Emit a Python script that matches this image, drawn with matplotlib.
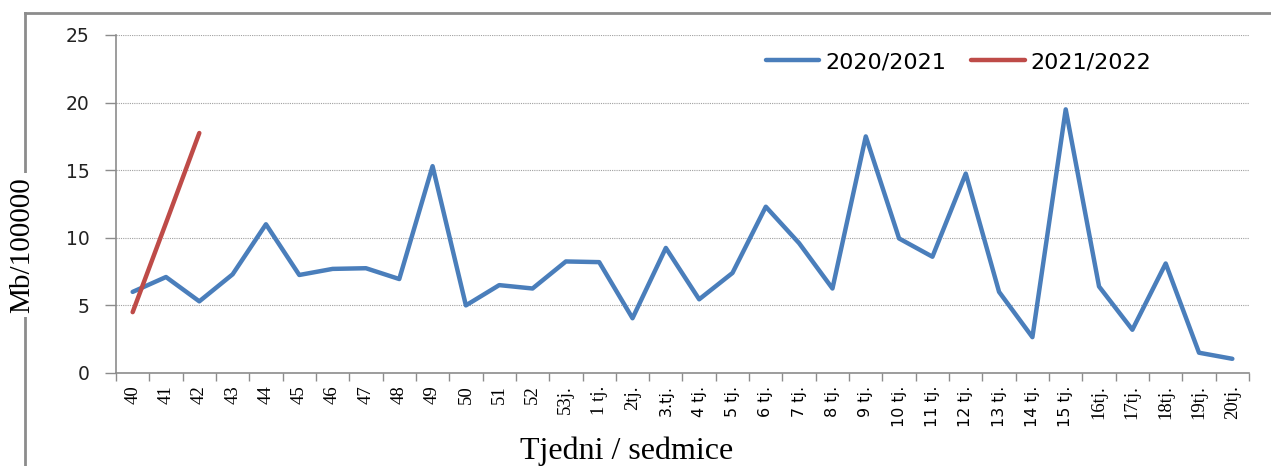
import matplotlib
matplotlib.use("Agg")
import matplotlib.pyplot as plt
from matplotlib.lines import Line2D

weeks = ["40", "41", "42", "43", "44", "45", "46", "47", "48", "49", "50", "51", "52",
         "53j.", "1 tj.", "2tj.", "3.tj.", "4 tj.", "5 tj.", "6 tj.", "7 tj.", "8 tj.",
         "9 tj.", "10 tj.", "11 tj.", "12 tj.", "13 tj.", "14 tj.", "15 tj.",
         "16tj.", "17tj.", "18tj.", "19tj.", "20tj."]
season_2020_2021 = [6.0, 7.1, 5.3, 7.3, 11.0, 7.25, 7.7, 7.75, 6.95, 15.3, 5.0, 6.5, 6.25,
                    8.25, 8.2, 4.05, 9.25, 5.45, 7.4, 12.3, 9.6, 6.25, 17.5, 9.95, 8.6,
                    14.75, 6.0, 2.65, 19.5, 6.4, 3.2, 8.1, 1.5, 1.05]
season_2021_2022 = [4.5, 11.1, 17.75]
label_a = "2020/2021"
label_b = "2021/2022"

W, H = 1271, 466
fig = plt.figure(figsize=(W / 100, H / 100), dpi=100)
ax = fig.add_axes([116 / W, 1 - 373 / H, (1249 - 116) / W, (373 - 35) / H])

x = list(range(len(weeks)))
ax.plot(x, season_2020_2021, color="#4A7EBB", lw=3.2, solid_capstyle="round",
        solid_joinstyle="round", label=label_a, zorder=3)
ax.plot(x[:len(season_2021_2022)], season_2021_2022, color="#BE4B48", lw=3.2,
        solid_capstyle="round", label=label_b, zorder=4)

ax.set_xlim(-0.5, len(weeks) - 0.5)
ax.set_ylim(0, 25)
ax.set_yticks([0, 5, 10, 15, 20, 25])
ax.yaxis.grid(True, color="#A0A0A0", linestyle=(0, (1, 1)), lw=0.8)
ax.set_axisbelow(True)

for s in ["top", "right"]:
    ax.spines[s].set_visible(False)
for s in ["left", "bottom"]:
    ax.spines[s].set_color("#8C8C8C")
    ax.spines[s].set_linewidth(1.2)

ax.tick_params(axis="y", direction="out", length=8, width=1.0, color="#8C8C8C",
               labelsize=13.5, labelcolor="#222222", pad=11)
# x: tick marks at category boundaries, labels at centres
ax.set_xticks([i - 0.5 for i in range(len(weeks) + 1)])
ax.set_xticklabels([])
ax.tick_params(axis="x", which="major", direction="out", length=6, width=1.0,
               color="#8C8C8C")
ax.set_xticks(x, minor=True)
ax.set_xticklabels(weeks, minor=True, rotation=90)
ax.tick_params(axis="x", which="minor", length=0, pad=9)
sans_set = {"3.tj.", "4 tj.", "5 tj.", "6 tj.", "7 tj.", "8 tj.", "9 tj.", "10 tj.",
            "11 tj.", "12 tj.", "13 tj.", "14 tj.", "15 tj."}
for lab in ax.get_xticklabels(minor=True):
    if lab.get_text() in sans_set:
        lab.set_family("DejaVu Sans")
        lab.set_fontsize(11.5)
    else:
        lab.set_family("Liberation Serif")
        lab.set_fontsize(13.5)
    lab.set_verticalalignment("top")

# outer frame lines
fig.add_artist(Line2D([25 / W, 1.0], [1 - 13 / H, 1 - 13 / H], color="#8C8C8C", lw=2.0,
                      transform=fig.transFigure))
fig.add_artist(Line2D([25 / W, 25 / W], [0, 1 - 13 / H], color="#8C8C8C", lw=2.0,
                      transform=fig.transFigure))

fig.text(22 / W, 1 - 245 / H, "Mb/100000", rotation=90, ha="center", va="center",
         family="Liberation Serif", fontsize=21, color="black",
         bbox=dict(facecolor="white", edgecolor="none", pad=3))
fig.text(627 / W, 1 - 451 / H, "Tjedni / sedmice", ha="center", va="center",
         family="Liberation Serif", fontsize=23, color="black")

fig.legend(loc="center left", bbox_to_anchor=(766 / W, 1 - 62 / H), ncol=2,
           frameon=False, fontsize=16, handlelength=2.4, handletextpad=0.25,
           columnspacing=1.15, borderaxespad=0, borderpad=0)

fig.savefig("out.png", dpi=100)
